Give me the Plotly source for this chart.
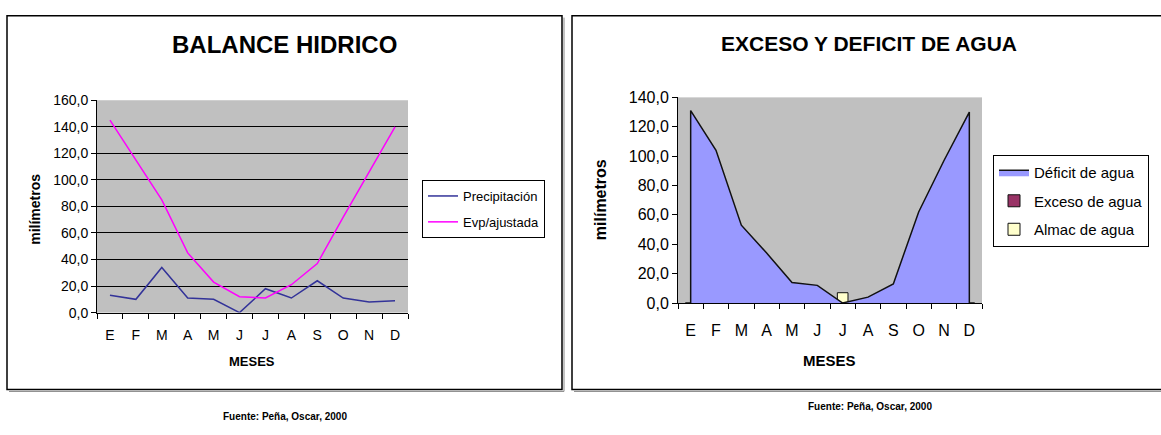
import plotly.graph_objects as go

# ---- data -------------------------------------------------------------
meses = ["E", "F", "M", "A", "M", "J", "J", "A", "S", "O", "N", "D"]
precipitacion = [13, 10, 34, 11, 10, 0, 18, 11, 24, 11, 8, 9]
evp_ajustada = [145, 115, 85, 45, 23, 12, 11, 21, 37, 72, 106, 140]

deficit = [131, 104, 53, 34, 14, 12, 0, 4, 13, 62, 97, 130]
exceso = [0, 0, 0, 0, 0, 0, 0, 0, 0, 0, 0, 0]
almacenamiento = [None, None, None, None, None, None, 7, None, None, None, None, None]

fuente = "Fuente: Peña, Oscar, 2000"

# ---- helpers ----------------------------------------------------------
W, H = 1161, 435
FONT = "Liberation Sans, Arial, sans-serif"
idx = list(range(len(meses)))
bordes = [i - 0.5 for i in range(len(meses) + 1)]


def px(x):
    return x / W


def py(y):
    return 1 - y / H


fig = go.Figure()

# ---- left chart: BALANCE HIDRICO -------------------------------------
fig.add_trace(go.Scatter(x=idx, y=precipitacion, mode="lines", name="Precipitación",
                         line=dict(color="#333399", width=1.5),
                         xaxis="x", yaxis="y", legend="legend", legendgroup="p"))
fig.add_trace(go.Scatter(x=idx, y=evp_ajustada, mode="lines", name="Evp/ajustada",
                         line=dict(color="#FF00FF", width=1.5),
                         xaxis="x", yaxis="y", legend="legend", legendgroup="e"))

# ---- right chart: EXCESO Y DEFICIT DE AGUA ----------------------------
# closed outline of the deficit area, dropping to the baseline at both ends
area_x = [idx[0]] + idx + [idx[-1]]
area_y = [0] + deficit + [0]
fig.add_trace(go.Scatter(x=area_x, y=area_y, mode="lines", fill="toself",
                         fillcolor="#9999FF", line=dict(color="#111111", width=1.5),
                         name="Déficit de agua", xaxis="x2", yaxis="y2",
                         legend="legend2", legendgroup="d"))
fig.add_trace(go.Bar(x=idx, y=exceso, name="Exceso de agua", width=0.42,
                     marker=dict(color="#993366", line=dict(color="#111111", width=1)),
                     xaxis="x2", yaxis="y2", legend="legend2", legendgroup="x"))
fig.add_trace(go.Bar(x=idx, y=almacenamiento, name="Almac de agua", width=0.42,
                     marker=dict(color="#FFFFCC", line=dict(color="#111111", width=1)),
                     xaxis="x2", yaxis="y2", legend="legend2", legendgroup="a"))

axis_common = dict(showline=True, linecolor="black", linewidth=1, zeroline=False,
                   tickcolor="black", tickwidth=1, color="black")

fig.update_layout(
    width=W, height=H,
    margin=dict(l=0, r=0, t=0, b=0),
    paper_bgcolor="white",
    plot_bgcolor="#C0C0C0",
    separators=",.",
    barmode="overlay",
    font=dict(family=FONT, color="black"),
    showlegend=True,
    xaxis=dict(domain=[px(97), px(408)], anchor="y", range=[-0.5, 11.5],
               tickmode="array", tickvals=idx, ticktext=meses, ticks="",
               showgrid=False, tickfont=dict(size=14), ticklabelstandoff=10,
               minor=dict(tickmode="array", tickvals=bordes, ticks="outside",
                          ticklen=5, tickcolor="black", showgrid=False),
               **axis_common),
    yaxis=dict(domain=[py(317), py(96)], anchor="x", range=[0, 160], dtick=20,
               tickformat=".1f", ticks="outside", ticklen=5,
               showgrid=True, gridcolor="black", gridwidth=1,
               tickfont=dict(size=14), **axis_common),
    xaxis2=dict(domain=[px(678), px(982)], anchor="y2", range=[-0.5, 11.5],
                tickmode="array", tickvals=idx, ticktext=meses, ticks="",
                showgrid=False, tickfont=dict(size=16), ticklabelstandoff=13,
                minor=dict(tickmode="array", tickvals=bordes, ticks="outside",
                           ticklen=5, tickcolor="black", showgrid=False),
                **axis_common),
    yaxis2=dict(domain=[py(307), py(93)], anchor="x2", range=[0, 140], dtick=20,
                tickformat=".1f", ticks="outside", ticklen=5, showgrid=False,
                tickfont=dict(size=16), **axis_common),
    # inner halves of the crossing tick marks on the right chart
    xaxis3=dict(domain=[px(678), px(982)], anchor="y2", overlaying="x2",
                range=[-0.5, 11.5], tickmode="array", tickvals=bordes,
                ticks="inside", ticklen=5, tickcolor="black", showticklabels=False,
                showline=False, showgrid=False, zeroline=False),
    yaxis3=dict(domain=[py(307), py(93)], anchor="x2", overlaying="y2",
                range=[0, 140], dtick=20, ticks="inside", ticklen=5,
                tickcolor="black", showticklabels=False, showline=False,
                showgrid=False, zeroline=False),
    legend=dict(x=px(422), y=py(179), xanchor="left", yanchor="top",
                bgcolor="white", bordercolor="black", borderwidth=1,
                font=dict(size=13), tracegroupgap=6, itemwidth=30),
    legend2=dict(x=px(993), y=py(153), xanchor="left", yanchor="top",
                 bgcolor="white", bordercolor="black", borderwidth=1,
                 font=dict(size=15), tracegroupgap=6, itemwidth=30),
)

# ---- panel frames -----------------------------------------------------
frames = [(7, 8, 562, 397), (572, 8, 1175, 397)]
for x0, y0, x1, y1 in frames:
    fig.add_shape(type="rect", xref="paper", yref="paper",
                  x0=px(x0), x1=px(x1), y0=py(y1), y1=py(y0),
                  line=dict(color="black", width=1.5), fillcolor="rgba(0,0,0,0)",
                  layer="below")
    # thin drop shadow on right and bottom edges
    fig.add_shape(type="line", xref="paper", yref="paper",
                  x0=px(x0 + 2), x1=px(x1 + 2), y0=py(y1 + 2), y1=py(y1 + 2),
                  line=dict(color="#888888", width=1))
    fig.add_shape(type="line", xref="paper", yref="paper",
                  x0=px(x1 + 2), x1=px(x1 + 2), y0=py(y1 + 2), y1=py(y0 + 2),
                  line=dict(color="#888888", width=1))

# ---- titles and labels ------------------------------------------------
bold = lambda s: "<b>" + s + "</b>"
texts = [
    (bold("BALANCE HIDRICO"), 284, 38, 24, 0),
    (bold("MESES"), 252, 368, 13, 0),
    (bold("milímetros"), 35, 210, 14, -90),
    (bold("EXCESO Y DEFICIT DE AGUA"), 869, 37, 21, 0),
    (bold("MESES"), 829, 367, 15, 0),
    (bold("milímetros"), 600, 200, 16, -90),
    (bold(fuente), 285, 425, 10, 0),
    (bold(fuente), 870, 415, 10, 0),
]
for t, x, y, s, ang in texts:
    fig.add_annotation(text=t, x=px(x), y=py(y), xref="paper", yref="paper",
                       xanchor="center", yanchor="middle", showarrow=False,
                       textangle=ang, font=dict(size=s, family=FONT, color="black"))

fig.write_html("out.html")
